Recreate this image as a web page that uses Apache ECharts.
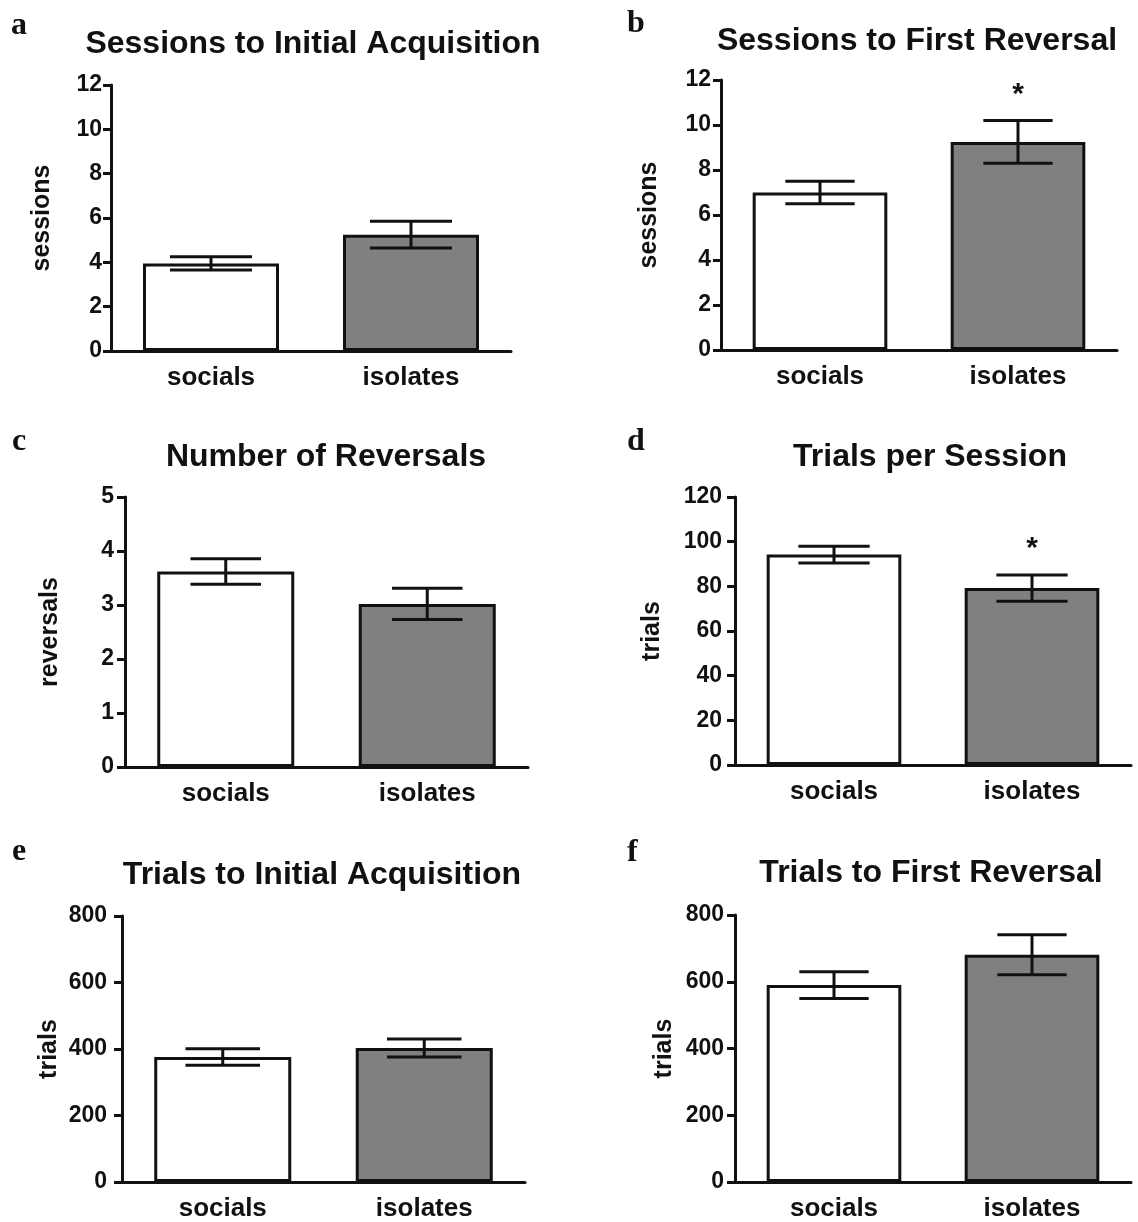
<!DOCTYPE html>
<html><head><meta charset="utf-8">
<script src="https://cdn.jsdelivr.net/npm/echarts@6/dist/echarts.min.js"></script>
<style>html,body{margin:0;padding:0;background:#fff}#c{width:1138px;height:1222px}</style>
</head><body><div id="c"></div>
<script>
// ---- data ----
const categories = ['socials', 'isolates'];
const letters = ['a', 'b', 'c', 'd', 'e', 'f'];
const titles = ['Sessions to Initial Acquisition', 'Sessions to First Reversal', 'Number of Reversals',
                'Trials per Session', 'Trials to Initial Acquisition', 'Trials to First Reversal'];
const yNames = ['sessions', 'sessions', 'reversals', 'trials', 'trials', 'trials'];
const yMax = [12, 12, 5, 120, 800, 800];
const yStep = [2, 2, 1, 20, 200, 200];

const sessAcqMean = [3.95, 5.25];
const sessAcqErr  = [0.30, 0.60];
const sessRevMean = [7.0, 9.25];
const sessRevErr  = [0.50, 0.95];
const numRevMean  = [3.62, 3.02];
const numRevErr   = [0.235, 0.29];
const trialsSessMean = [94.2, 79.2];
const trialsSessErr  = [3.75, 5.9];
const trialsAcqMean = [376, 403];
const trialsAcqErr  = [25, 27];
const trialsRevMean = [590, 681];
const trialsRevErr  = [40, 60];

const sigA = ['', ''];
const sigB = ['', '*'];
const sigC = ['', ''];
const sigD = ['', '*'];
const sigE = ['', ''];
const sigF = ['', ''];

const means = [sessAcqMean, sessRevMean, numRevMean, trialsSessMean, trialsAcqMean, trialsRevMean];
const errs  = [sessAcqErr, sessRevErr, numRevErr, trialsSessErr, trialsAcqErr, trialsRevErr];
const sigs  = [sigA, sigB, sigC, sigD, sigE, sigF];

// ---- layout / style ----
const INK = '#111';
const FONT = '"Liberation Sans", Arial, Helvetica, sans-serif';
const grids = [
  {left: 111, top: 85,  width: 400, height: 266},
  {left: 721, top: 80,  width: 396, height: 270},
  {left: 125, top: 497, width: 403, height: 270},
  {left: 735, top: 497, width: 396, height: 268},
  {left: 122, top: 916, width: 403, height: 268},
  {left: 735, top: 915, width: 396, height: 268}
];
const nameGaps = [56, 59, 62, 70, 60, 58];
const yLabelMargin = [9, 10, 11, 13, 15, 11];
const capFrac = [0.41, 0.35, 0.35, 0.36, 0.37, 0.35];
const titlePos = [[313, 44], [917, 41], [326, 457], [930, 457], [322, 875], [931, 873]];
const letterPos = [[11, 26], [627, 24], [12, 442], [627, 442], [12, 852], [627, 853]];

function errRender(frac, sig) {
  return function (params, api) {
    const x = api.value(0), lo = api.value(1), hi = api.value(2);
    const pLo = api.coord([x, lo]), pHi = api.coord([x, hi]);
    const bw = api.size([1, 0])[0];
    const half = bw * frac / 2;
    const st = {stroke: INK, lineWidth: 3, fill: null};
    const ch = [
      {type: 'line', shape: {x1: pLo[0], y1: pLo[1], x2: pHi[0], y2: pHi[1]}, style: st},
      {type: 'line', shape: {x1: pHi[0] - half, y1: pHi[1], x2: pHi[0] + half, y2: pHi[1]}, style: st},
      {type: 'line', shape: {x1: pLo[0] - half, y1: pLo[1], x2: pLo[0] + half, y2: pLo[1]}, style: st}
    ];
    const s = sig[params.dataIndex];
    if (s) ch.push({type: 'text', x: pHi[0], y: pHi[1] - 26,
      style: {text: s, font: 'bold 30px ' + FONT, fill: INK, align: 'center', verticalAlign: 'middle'}});
    return {type: 'group', children: ch};
  };
}

const xAxes = [], yAxes = [], series = [], graphics = [];
for (let i = 0; i < 6; i++) {
  xAxes.push({
    type: 'category', gridIndex: i, data: categories,
    axisLine: {lineStyle: {color: INK, width: 3}},
    axisTick: {alignWithLabel: true, length: 9, lineStyle: {color: INK, width: 3}},
    axisLabel: {color: INK, fontSize: 26, fontWeight: 'bold', fontFamily: FONT, margin: 14},
    splitLine: {show: false}
  });
  yAxes.push({
    type: 'value', gridIndex: i, min: 0, max: yMax[i], interval: yStep[i],
    name: yNames[i], nameLocation: 'middle', nameGap: nameGaps[i],
    nameTextStyle: {color: INK, fontSize: 25, fontWeight: 'bold', fontFamily: FONT},
    axisLine: {show: true, lineStyle: {color: INK, width: 3}},
    axisTick: {show: true, length: 8, lineStyle: {color: INK, width: 3}},
    axisLabel: {color: INK, fontSize: 23, fontWeight: 'bold', fontFamily: FONT, margin: yLabelMargin[i]},
    splitLine: {show: false}
  });
  series.push({
    type: 'bar', xAxisIndex: i, yAxisIndex: i, barWidth: '68%', z: 2,
    data: means[i].map((v, k) => ({
      value: v,
      itemStyle: {color: k === 0 ? '#ffffff' : '#808080', borderColor: INK, borderWidth: 3}
    })),
    animation: false
  });
  series.push({
    type: 'custom', xAxisIndex: i, yAxisIndex: i, z: 5,
    renderItem: errRender(capFrac[i], sigs[i]),
    encode: {x: 0, y: [1, 2]},
    data: means[i].map((v, k) => [k, v - errs[i][k], v + errs[i][k]]),
    animation: false
  });
  graphics.push({type: 'text', x: titlePos[i][0], y: titlePos[i][1],
    style: {text: titles[i], font: 'bold 32px ' + FONT, fill: INK, align: 'center', verticalAlign: 'middle'}});
  graphics.push({type: 'text', x: letterPos[i][0], y: letterPos[i][1],
    style: {text: letters[i], font: 'bold 32px "Liberation Serif", "Times New Roman", serif', fill: INK, align: 'left', verticalAlign: 'middle'}});
}

const chart = echarts.init(document.getElementById('c'), null, {renderer: 'canvas'});
chart.setOption({
  backgroundColor: '#ffffff',
  animation: false,
  grid: grids,
  xAxis: xAxes,
  yAxis: yAxes,
  series: series,
  graphic: graphics
});
</script></body></html>
